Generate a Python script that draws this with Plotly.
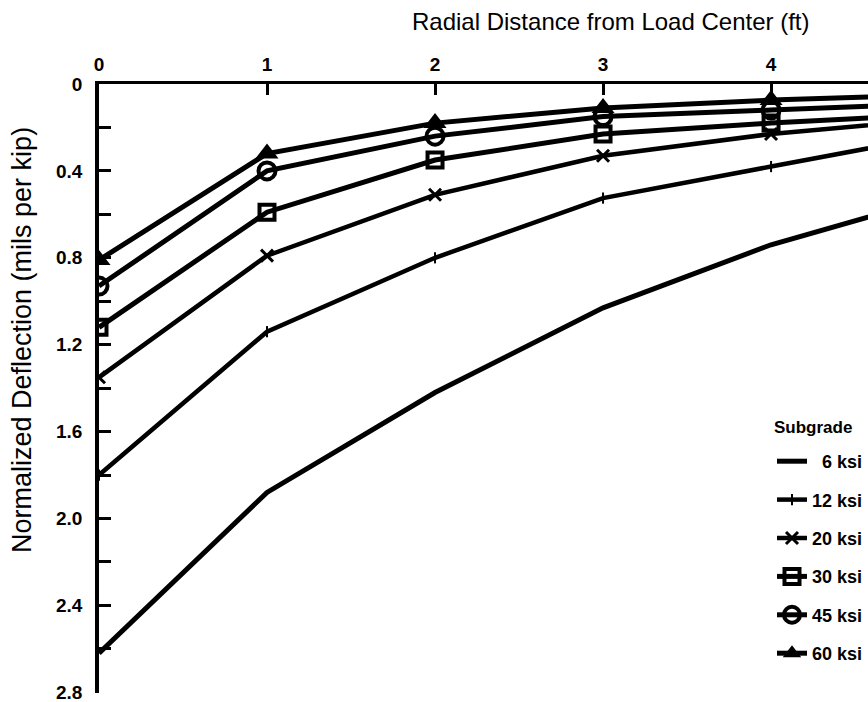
import plotly.graph_objects as go

# Radial distance from the load center (ft)
distance_ft = [0, 1, 2, 3, 4, 5]

# Normalized deflection (mils per kip) for each subgrade modulus
subgrade_labels = ["\u20076 ksi", "12 ksi", "20 ksi", "30 ksi", "45 ksi", "60 ksi"]
defl_6 = [2.62, 1.88, 1.42, 1.03, 0.74, 0.52]
defl_12 = [1.80, 1.14, 0.80, 0.525, 0.38, 0.235]
defl_20 = [1.35, 0.79, 0.51, 0.33, 0.23, 0.16]
defl_30 = [1.12, 0.59, 0.35, 0.23, 0.18, 0.14]
defl_45 = [0.93, 0.40, 0.24, 0.15, 0.12, 0.09]
defl_60 = [0.81, 0.32, 0.18, 0.11, 0.074, 0.05]

y_tick_vals = [round(0.2 * i, 1) for i in range(15)]
y_tick_text = ["0" if v == 0 else (f"{v:.1f}" if i % 2 == 0 else "")
               for i, v in enumerate(y_tick_vals)]
x_tick_vals = [0, 1, 2, 3, 4]

FONT = "Liberation Sans, Arial, Helvetica, sans-serif"

series = [
    (defl_6, None, 5),
    (defl_12, dict(symbol="line-ns", size=8, line=dict(width=2, color="black")), 4.5),
    (defl_20, dict(symbol="x-thin", size=12, line=dict(width=3, color="black")), 4.5),
    (defl_30, dict(symbol="square-open", size=15, line=dict(width=4, color="black")), 5),
    (defl_45, dict(symbol="circle-open", size=17, line=dict(width=4, color="black")), 5),
    (defl_60, dict(symbol="triangle-up", size=20, line=dict(width=0)), 5),
]

fig = go.Figure()
for (vals, marker, lw), name in zip(series, subgrade_labels):
    trace = dict(
        x=distance_ft, y=vals, name=name,
        line=dict(color="black", width=lw),
        legendgroup=name, cliponaxis=True,
    )
    if marker is None:
        trace["mode"] = "lines"
    else:
        trace["mode"] = "lines+markers"
        trace["marker"] = dict(color="black", **marker)
    fig.add_trace(go.Scatter(**trace))

fig.update_layout(
    width=868, height=702,
    margin=dict(l=99, r=0, t=84, b=9),
    paper_bgcolor="white", plot_bgcolor="white",
    font=dict(family=FONT, color="black", size=18),
    showlegend=True,
    legend=dict(
        x=1.0, xanchor="right", y=(693 - 443) / 609, yanchor="top",
        font=dict(family=FONT, size=18, weight="bold"),
        tracegroupgap=12, itemwidth=30,
        bgcolor="rgba(0,0,0,0)",
    ),
    xaxis=dict(
        side="top", range=[0, 4.577], tickvals=x_tick_vals,
        ticks="inside", ticklen=11, tickwidth=2.5, tickcolor="black",
        showline=True, linecolor="black", linewidth=2.5,
        showgrid=False, zeroline=False, ticklabelstandoff=3,
        tickfont=dict(family=FONT, size=19, weight="bold"),
    ),
    yaxis=dict(
        range=[2.803, 0], tickvals=y_tick_vals, ticktext=y_tick_text,
        ticks="inside", ticklen=12, tickwidth=3, tickcolor="black",
        showline=True, linecolor="black", linewidth=3.5,
        showgrid=False, zeroline=False, ticklabelstandoff=9,
        ticklabeloverflow="allow",
        tickfont=dict(family=FONT, size=19, weight="bold"),
    ),
    annotations=[
        dict(text="Radial Distance from Load Center (ft)", xref="paper", yref="paper",
             x=(611 - 99) / 769, y=(693 - 22) / 609, xanchor="center", yanchor="middle",
             showarrow=False, font=dict(family=FONT, size=24)),
        dict(text="Normalized Deflection (mils per kip)", xref="paper", yref="paper",
             x=(22 - 99) / 769, y=(693 - 340) / 609, xanchor="center", yanchor="middle",
             textangle=-90, showarrow=False, font=dict(family=FONT, size=27)),
        dict(text="<b>Subgrade</b>", xref="paper", yref="paper",
             x=(813 - 99) / 769, y=(693 - 427) / 609, xanchor="center", yanchor="middle",
             showarrow=False, font=dict(family=FONT, size=17)),
    ],
)

fig.write_html("out.html")
